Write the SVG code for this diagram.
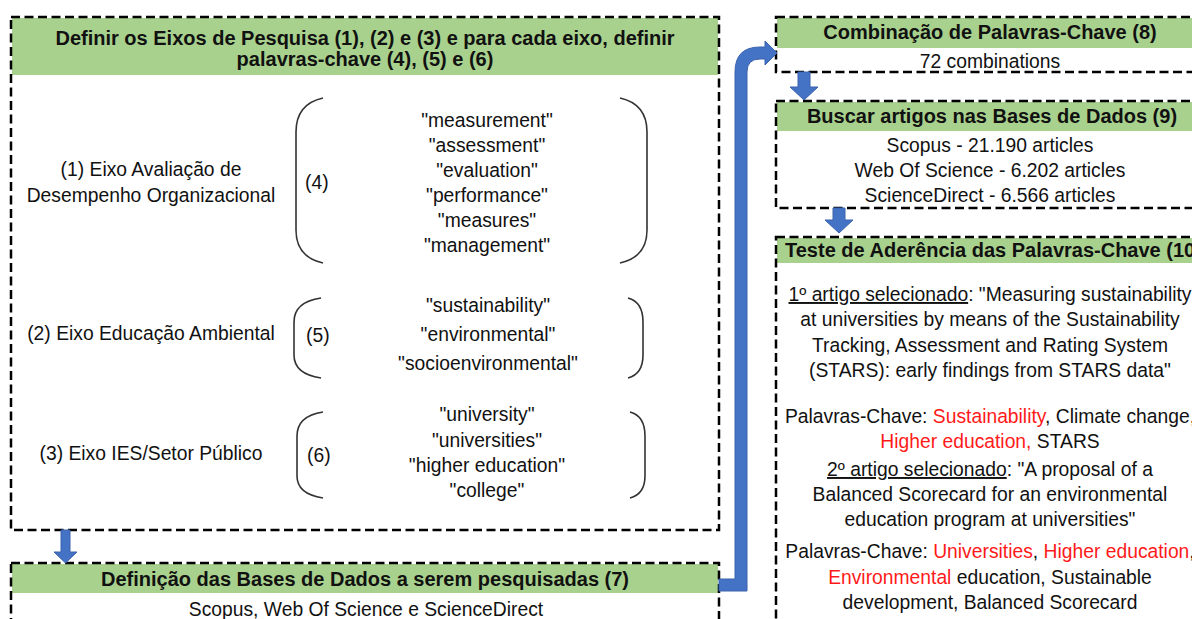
<svg xmlns="http://www.w3.org/2000/svg" width="1192" height="619" viewBox="0 0 1192 619">
<defs>
<style>
text{font-family:"Liberation Sans",Arial,sans-serif;font-size:19.3px;fill:#111;}
.t{text-anchor:middle;}
.b{font-weight:bold;font-size:20px;}
.box{fill:none;stroke:#000;stroke-width:2.5;stroke-dasharray:9 4.5;}
.bg{fill:#fff;}
.hdr{fill:#A9D18E;}
.par{fill:none;stroke:#333;stroke-width:1.6;}
.arr{fill:#4472C4;stroke:#3A63AE;stroke-width:1;}
.red{fill:#FF1A1A;}
</style>
</defs>

<g id="node-eixos">
<rect class="bg" x="11" y="17" width="708" height="513"/>
<rect class="hdr" x="12" y="18" width="706" height="57"/>
<rect class="box" x="11" y="17" width="708" height="513"/>
<text class="t b" x="365" y="45">Definir os Eixos de Pesquisa (1), (2) e (3) e para cada eixo, definir</text>
<text class="t b" x="365" y="66">palavras-chave (4), (5) e (6)</text>

<text class="t" x="151" y="176">(1) Eixo Avaliação de</text>
<text class="t" x="151" y="202">Desempenho Organizacional</text>
<text x="305" y="189">(4)</text>
<path class="par" d="M323,98 Q296,104 296,132 L296,230 Q296,257 323,263"/>
<path class="par" d="M620,98 Q647,104 647,132 L647,230 Q647,257 620,263"/>
<text class="t" x="487" y="127">"measurement"</text>
<text class="t" x="487" y="152">"assessment"</text>
<text class="t" x="487" y="177">"evaluation"</text>
<text class="t" x="487" y="202">"performance"</text>
<text class="t" x="487" y="227">"measures"</text>
<text class="t" x="487" y="252">"management"</text>

<text class="t" x="151" y="340">(2) Eixo Educação Ambiental</text>
<text x="306" y="342">(5)</text>
<path class="par" d="M321,298 Q294,302 294,322 L294,355 Q294,374 321,378"/>
<path class="par" d="M628,298 Q643,302 643,322 L643,355 Q643,374 628,378"/>
<text class="t" x="488" y="312">"sustainability"</text>
<text class="t" x="488" y="341">"environmental"</text>
<text class="t" x="488" y="370">"socioenvironmental"</text>

<text class="t" x="151" y="460">(3) Eixo IES/Setor Público</text>
<text x="307" y="462">(6)</text>
<path class="par" d="M323,412 Q297,416 297,436 L297,476 Q297,494 323,498"/>
<path class="par" d="M630,412 Q645,416 645,436 L645,476 Q645,494 630,498"/>
<text class="t" x="487" y="421">"university"</text>
<text class="t" x="487" y="447">"universities"</text>
<text class="t" x="487" y="472">"higher education"</text>
<text class="t" x="487" y="497">"college"</text>
</g>

<g id="node-bases">
<rect class="bg" x="11" y="563" width="708" height="80"/>
<rect class="hdr" x="12" y="564" width="706" height="29"/>
<rect class="box" x="11" y="563" width="708" height="80"/>
<text class="t b" x="365" y="586">Definição das Bases de Dados a serem pesquisadas (7)</text>
<text class="t" x="366" y="616">Scopus, Web Of Science e ScienceDirect</text>
</g>

<g id="node-combinacao">
<rect class="bg" x="776" y="17" width="432" height="55"/>
<rect class="hdr" x="777" y="18" width="430" height="30"/>
<rect class="box" x="776" y="17" width="432" height="55"/>
<text class="t b" x="990" y="39">Combinação de Palavras-Chave (8)</text>
<text class="t" x="990" y="68">72 combinations</text>
</g>

<g id="node-buscar">
<rect class="bg" x="776" y="101" width="432" height="107"/>
<rect class="hdr" x="777" y="102" width="430" height="29"/>
<rect class="box" x="776" y="101" width="432" height="107"/>
<text class="t b" x="992" y="123">Buscar artigos nas Bases de Dados (9)</text>
<text class="t" x="990" y="152">Scopus - 21.190 articles</text>
<text class="t" x="990" y="177">Web Of Science - 6.202 articles</text>
<text class="t" x="990" y="202">ScienceDirect - 6.566 articles</text>
</g>

<g id="node-teste">
<rect class="bg" x="776" y="237" width="432" height="400"/>
<rect class="hdr" x="777" y="238" width="430" height="25"/>
<rect class="box" x="776" y="237" width="432" height="400"/>
<text class="b" x="785" y="257">Teste de Aderência das Palavras-Chave (10)</text>
<text class="t" x="990" y="301"><tspan text-decoration="underline">1º artigo selecionado</tspan>: "Measuring sustainability</text>
<text class="t" x="990" y="326">at universities by means of the Sustainability</text>
<text class="t" x="990" y="352">Tracking, Assessment and Rating System</text>
<text class="t" x="990" y="377">(STARS): early findings from STARS data"</text>
<text class="t" x="990" y="423">Palavras-Chave: <tspan class="red">Sustainability</tspan>, Climate change,</text>
<text class="t" x="990" y="448"><tspan class="red">Higher education,</tspan> STARS</text>
<text class="t" x="990" y="476"><tspan text-decoration="underline">2º artigo selecionado</tspan>: "A proposal of a</text>
<text class="t" x="990" y="501">Balanced Scorecard for an environmental</text>
<text class="t" x="990" y="526">education program at universities"</text>
<text class="t" x="990" y="558">Palavras-Chave: <tspan class="red">Universities</tspan>, <tspan class="red">Higher education</tspan>,</text>
<text class="t" x="990" y="584"><tspan class="red">Environmental</tspan> education, Sustainable</text>
<text class="t" x="990" y="609">development, Balanced Scorecard</text>
</g>

<g id="connectors">
<path class="arr" d="M61,530 L70,530 L70,552 L77,552 L65.5,563 L54,552 L61,552 Z"/>
<path class="arr" d="M719,579 L735,579 L735,72 Q735,47 760,47 L765,47 L765,41 L777,53 L765,65 L765,59 L760,59 Q747,59 747,72 L747,591 L719,591 Z"/>
<path class="arr" d="M798,72 L810,72 L810,87 L818,87 L804,100 L790,87 L798,87 Z"/>
<path class="arr" d="M833,208 L845,208 L845,220 L853,220 L839,233 L825,220 L833,220 Z"/>
</g>
</svg>
